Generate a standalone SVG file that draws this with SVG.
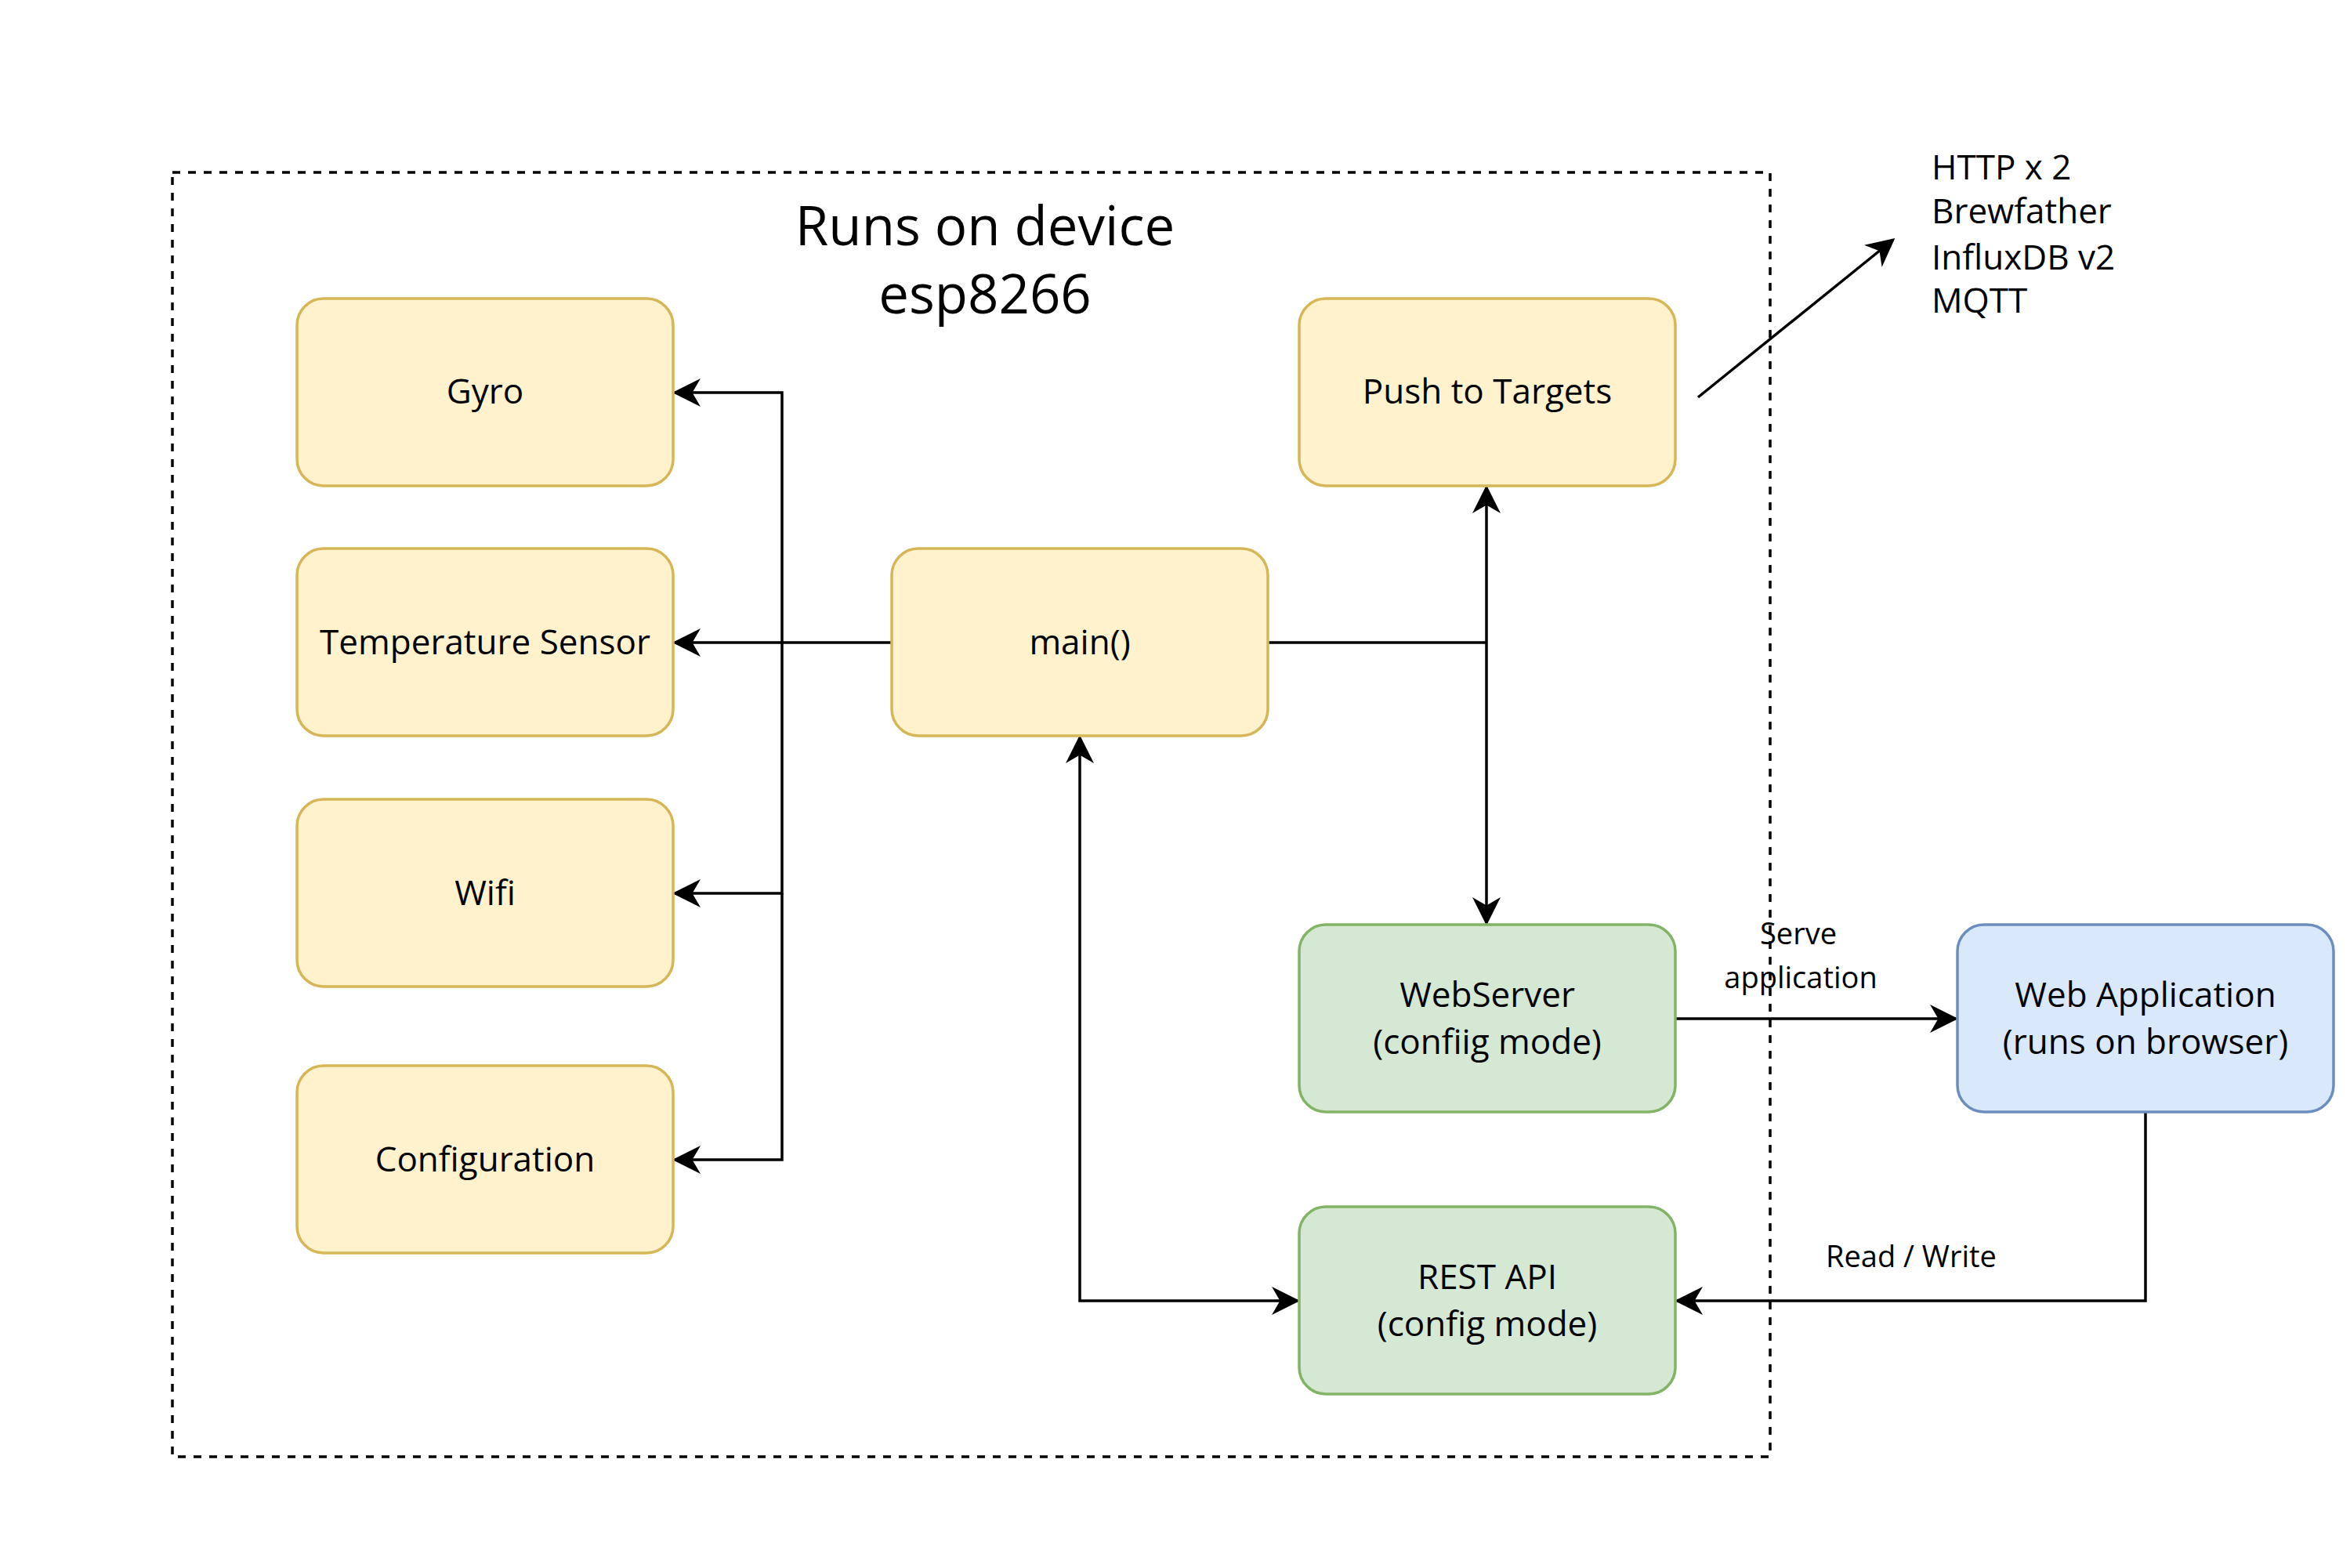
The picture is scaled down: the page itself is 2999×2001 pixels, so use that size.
<svg xmlns="http://www.w3.org/2000/svg" width="2999" height="2001" viewBox="0 0 2999 2001">
<style>
text{font-family:"Open Sans","Liberation Sans",sans-serif;fill:#000}
.y{fill:#fff2cc;stroke:#d6b656;stroke-width:3.5}
.g{fill:#d5e8d4;stroke:#82b366;stroke-width:3.5}
.b{fill:#dae8fc;stroke:#6c8ebf;stroke-width:3.5}
.t{font-size:44px;text-anchor:middle}
.c{fill:none;stroke:#000;stroke-width:3.5}
</style>
<defs><marker id="a" markerWidth="10" markerHeight="10" refX="9" refY="5" orient="auto" markerUnits="userSpaceOnUse" viewBox="0 0 10 10"><path d="M0,0 L10,5 L0,10 L3,5 Z" fill="#000" transform="scale(1)"/></marker>
<marker id="m" viewBox="0 0 12 12" refX="11" refY="6" markerWidth="36" markerHeight="36" orient="auto-start-reverse" markerUnits="userSpaceOnUse"><path d="M0,0 L12,6 L0,12 L3.5,6 Z" fill="#000"/></marker></defs>
<rect x="220" y="220" width="2039" height="1639" fill="none" stroke="#000" stroke-width="3.5" stroke-dasharray="10,10"/>
<text x="1257" y="313" font-size="69" text-anchor="middle">Runs on device</text>
<text x="1257" y="400" font-size="69" text-anchor="middle">esp8266</text>
<g id="connectors">
<path class="c" d="M1138,820 H998 V501 H861" marker-end="url(#m)"/>
<path class="c" d="M998,820 H861" marker-end="url(#m)"/>
<path class="c" d="M998,820 V1140 H861" marker-end="url(#m)"/>
<path class="c" d="M998,1140 V1480 H861" marker-end="url(#m)"/>
<path class="c" d="M1618,820 H1897"/>
<path class="c" d="M1897,820 V622" marker-end="url(#m)"/>
<path class="c" d="M1897,820 V1178" marker-end="url(#m)"/>
<path class="c" d="M1378,941 V1660 H1656" marker-start="url(#m)" marker-end="url(#m)"/>
<path class="c" d="M2138,1300 H2496" marker-end="url(#m)"/>
<path class="c" d="M2738,1419 V1660 H2140" marker-end="url(#m)"/>
<path class="c" d="M2167,507 L2416,306" marker-end="url(#m)"/>
<text x="2295" y="1205" font-size="38" text-anchor="middle">Serve</text>
<text x="2298" y="1261" font-size="38" text-anchor="middle">application</text>
<text x="2439" y="1617" font-size="38" text-anchor="middle">Read / Write</text>
</g>
<g id="gyro"><rect class="y" x="379" y="381" width="480" height="239" rx="34"/><text class="t" x="619" y="515">Gyro</text></g>
<g id="temp"><rect class="y" x="379" y="700" width="480" height="239" rx="34"/><text class="t" x="619" y="835">Temperature Sensor</text></g>
<g id="wifi"><rect class="y" x="379" y="1020" width="480" height="239" rx="34"/><text class="t" x="619" y="1155">Wifi</text></g>
<g id="config"><rect class="y" x="379" y="1360" width="480" height="239" rx="34"/><text class="t" x="619" y="1495">Configuration</text></g>
<g id="main"><rect class="y" x="1138" y="700" width="480" height="239" rx="34"/><text class="t" x="1378" y="835">main()</text></g>
<g id="push"><rect class="y" x="1658" y="381" width="480" height="239" rx="34"/><text class="t" x="1898" y="515">Push to Targets</text></g>
<g id="webserver"><rect class="g" x="1658" y="1180" width="480" height="239" rx="34"/><text class="t" x="1898" y="1285">WebServer</text><text class="t" x="1898" y="1345">(confiig mode)</text></g>
<g id="rest"><rect class="g" x="1658" y="1540" width="480" height="239" rx="34"/><text class="t" x="1898" y="1645">REST API</text><text class="t" x="1898" y="1705">(config mode)</text></g>
<g id="webapp"><rect class="b" x="2498" y="1180" width="480" height="239" rx="34"/><text class="t" x="2738" y="1285">Web Application</text><text class="t" x="2738" y="1345">(runs on browser)</text></g>
<g id="targets" font-size="44"><text x="2465" y="229">HTTP x 2</text><text x="2465" y="285">Brewfather</text><text x="2465" y="344">InfluxDB v2</text><text x="2465" y="399">MQTT</text></g>
</svg>
